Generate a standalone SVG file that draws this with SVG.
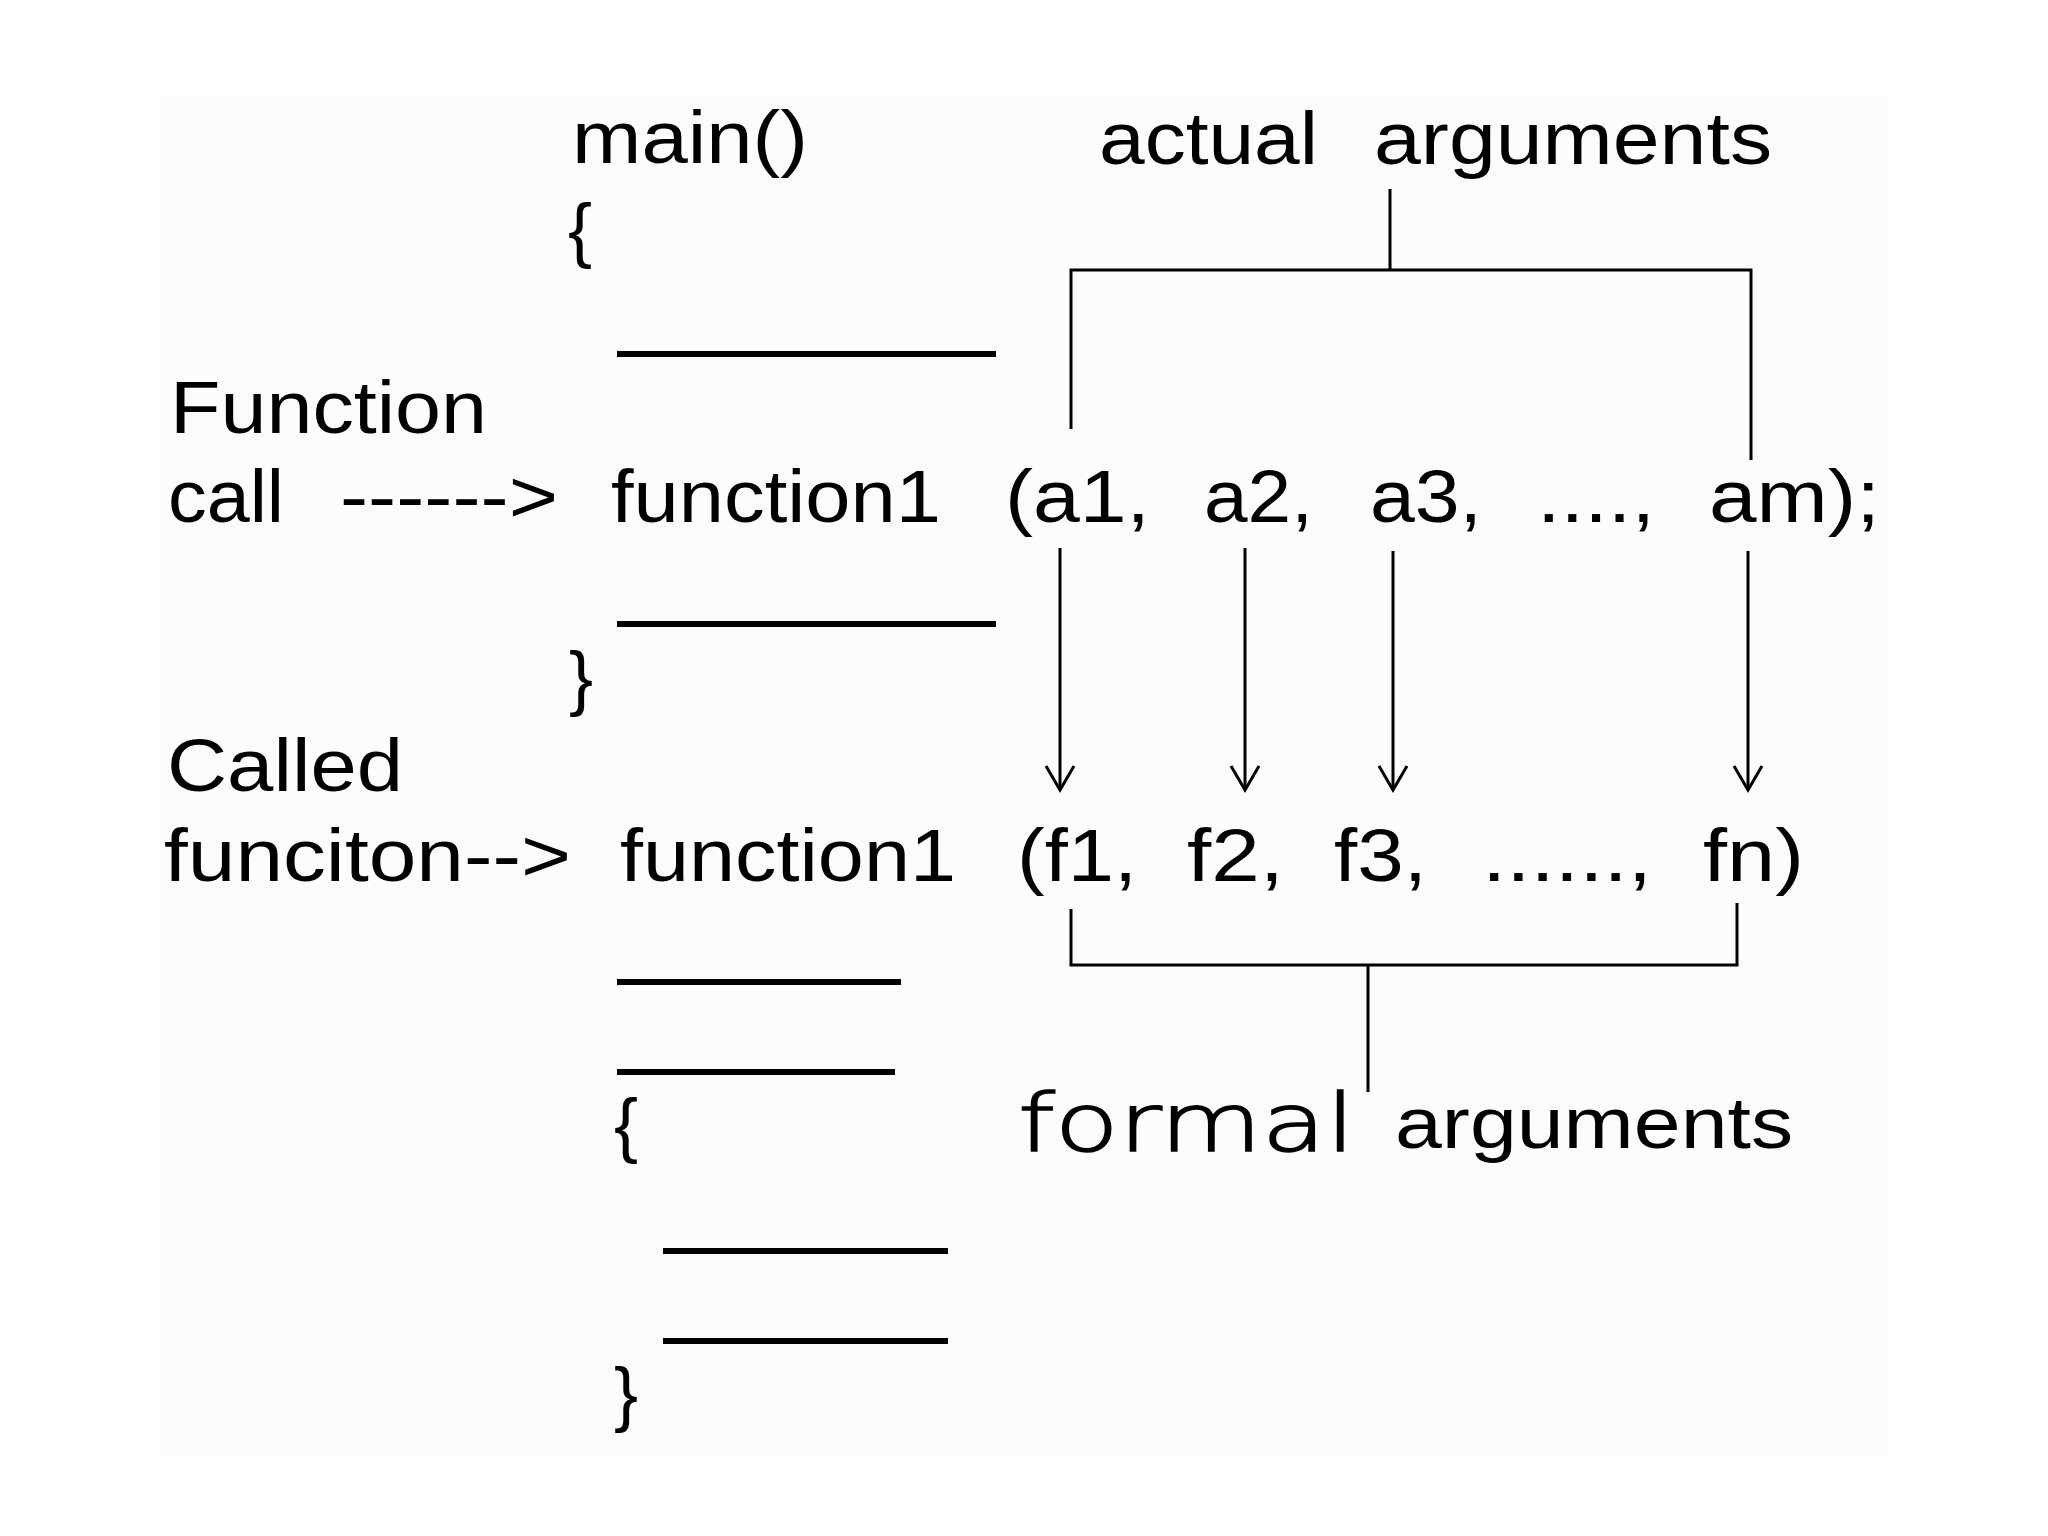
<svg xmlns="http://www.w3.org/2000/svg" width="2048" height="1536" viewBox="0 0 2048 1536">
<defs>
<style>
.t{font-family:"Liberation Sans",Arial,sans-serif;font-size:74px;fill:#000}
.br{font-family:"Liberation Sans",Arial,sans-serif;font-size:72px;fill:#000}
.fm{font-family:"DejaVu Sans",sans-serif;font-weight:200;font-size:80px;fill:#000;stroke:#000;stroke-width:1.6}
.ul{stroke:#000;stroke-width:6;fill:none}
.c{stroke:#000;stroke-width:3;fill:none}
</style>
</defs>
<rect x="0" y="0" width="2048" height="1536" fill="#ffffff"/>
<rect x="160" y="97" width="1728" height="1358" fill="#fcfcfc"/>

<g id="main-block">
<text class="t" x="572" y="163" textLength="236" lengthAdjust="spacingAndGlyphs">main()</text>
<text class="br" x="568" y="254">{</text>
<line class="ul" x1="617" y1="354" x2="996" y2="354"/>
<line class="ul" x1="617" y1="624" x2="996" y2="624"/>
<text class="br" x="569" y="702">}</text>
</g>

<g id="label-actual">
<text class="t" x="1099" y="164" textLength="219" lengthAdjust="spacingAndGlyphs">actual</text>
<text class="t" x="1374" y="164" textLength="398" lengthAdjust="spacingAndGlyphs">arguments</text>
</g>

<g id="label-function-call">
<text class="t" x="170" y="433" textLength="317" lengthAdjust="spacingAndGlyphs">Function</text>
<text class="t" x="168" y="522" textLength="116" lengthAdjust="spacingAndGlyphs">call</text>
<text class="t" x="340" y="522" textLength="218" lengthAdjust="spacingAndGlyphs">------&gt;</text>
</g>

<g id="call-statement">
<text class="t" x="611" y="522" textLength="330" lengthAdjust="spacingAndGlyphs">function1</text>
<text class="t" x="1005" y="522" textLength="145" lengthAdjust="spacingAndGlyphs">(a1,</text>
<text class="t" x="1204" y="522" textLength="109" lengthAdjust="spacingAndGlyphs">a2,</text>
<text class="t" x="1370" y="522" textLength="112" lengthAdjust="spacingAndGlyphs">a3,</text>
<text class="t" x="1537" y="522" textLength="118" lengthAdjust="spacingAndGlyphs">....,</text>
<text class="t" x="1709" y="522" textLength="171" lengthAdjust="spacingAndGlyphs">am);</text>
</g>

<g id="label-called-function">
<text class="t" x="167" y="791" textLength="236" lengthAdjust="spacingAndGlyphs">Called</text>
<text class="t" x="164" y="881" textLength="407" lengthAdjust="spacingAndGlyphs">funciton--&gt;</text>
</g>

<g id="called-definition">
<text class="t" x="620" y="881" textLength="336" lengthAdjust="spacingAndGlyphs">function1</text>
<text class="t" x="1017" y="881" textLength="120" lengthAdjust="spacingAndGlyphs">(f1,</text>
<text class="t" x="1187" y="881" textLength="97" lengthAdjust="spacingAndGlyphs">f2,</text>
<text class="t" x="1334" y="881" textLength="93" lengthAdjust="spacingAndGlyphs">f3,</text>
<text class="t" x="1482" y="881" textLength="170" lengthAdjust="spacingAndGlyphs">......,</text>
<text class="t" x="1703" y="881" textLength="101" lengthAdjust="spacingAndGlyphs">fn)</text>
<line class="ul" x1="617" y1="982" x2="901" y2="982"/>
<line class="ul" x1="617" y1="1072" x2="895" y2="1072"/>
<text class="br" x="614" y="1149">{</text>
<line class="ul" x1="663" y1="1251" x2="948" y2="1251"/>
<line class="ul" x1="663" y1="1341" x2="948" y2="1341"/>
<text class="br" x="614" y="1418">}</text>
</g>

<g id="label-formal">
<text class="fm" x="1018" y="1151" textLength="337" lengthAdjust="spacingAndGlyphs">formal</text>
<text class="t" x="1395" y="1148" textLength="398" lengthAdjust="spacingAndGlyphs" style="font-size:72px">arguments</text>
</g>

<g id="connectors">
<polyline class="c" points="1071,429 1071,270 1751,270 1751,460"/>
<line class="c" x1="1390" y1="189" x2="1390" y2="270"/>
<line class="c" x1="1060" y1="548" x2="1060" y2="790"/>
<polyline class="c" points="1046,766 1060,790 1074,766"/>
<line class="c" x1="1245" y1="548" x2="1245" y2="790"/>
<polyline class="c" points="1231,766 1245,790 1259,766"/>
<line class="c" x1="1393" y1="551" x2="1393" y2="790"/>
<polyline class="c" points="1379,766 1393,790 1407,766"/>
<line class="c" x1="1748" y1="551" x2="1748" y2="790"/>
<polyline class="c" points="1734,766 1748,790 1762,766"/>
<polyline class="c" points="1071,909 1071,965 1737,965 1737,903"/>
<line class="c" x1="1368" y1="965" x2="1368" y2="1092"/>
</g>
</svg>
